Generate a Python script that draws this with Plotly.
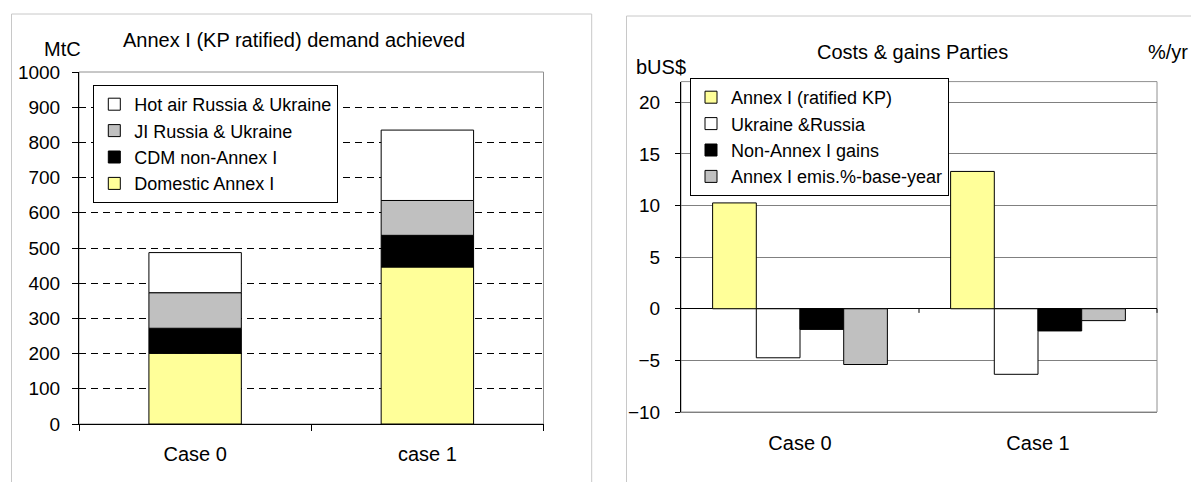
import plotly.graph_objects as go

# ---- data ----
cases_left = ["Case 0", "case 1"]
domestic_annex1 = [201, 446]
cdm_non_annex1 = [71, 90]
ji_russia_ukraine = [101, 99]
hot_air_russia_ukraine = [114, 200]

cases_right = ["Case 0", "Case 1"]
annex1_ratified = [10.25, 13.3]
ukraine_russia = [-4.75, -6.35]
non_annex1_gains = [-2.0, -2.15]
annex1_emis_pct = [-5.4, -1.15]

W, H = 1199, 482
OFF = 8  # page body margin
FONT = "Liberation Sans, Arial, sans-serif"
YELLOW = "#FFFF99"
GREY = "#C0C0C0"


def px_x(p):
    return (p - OFF) / W


def px_y(p):
    return 1 - (p - OFF) / H


fig = go.Figure()

# ---- left chart: stacked via base ----
left_series = [
    ("Domestic Annex I", domestic_annex1, YELLOW),
    ("CDM non-Annex I", cdm_non_annex1, "black"),
    ("JI Russia & Ukraine", ji_russia_ukraine, GREY),
    ("Hot air Russia & Ukraine", hot_air_russia_ukraine, "white"),
]
base = [0] * len(cases_left)
for name, vals, col in left_series:
    fig.add_trace(go.Bar(
        x=cases_left, y=vals, base=list(base), name=name,
        marker=dict(color=col, line=dict(color="black", width=1)),
        width=0.398, offset=-0.199,
        xaxis="x", yaxis="y", legend="legend",
    ))
    base = [b + v for b, v in zip(base, vals)]

# ---- right chart: grouped ----
right_series = [
    ("Annex I (ratified KP)", annex1_ratified, YELLOW),
    ("Ukraine &Russia", ukraine_russia, "white"),
    ("Non-Annex I gains", non_annex1_gains, "black"),
    ("Annex I emis.%-base-year", annex1_emis_pct, GREY),
]
bw = 0.1836
for i, (name, vals, col) in enumerate(right_series):
    fig.add_trace(go.Bar(
        x=cases_right, y=vals, name=name,
        marker=dict(color=col, line=dict(color="black", width=1)),
        width=bw, offset=-2 * bw + i * bw,
        xaxis="x2", yaxis="y2", legend="legend2",
    ))

fig.update_layout(
    width=W, height=H,
    margin=dict(l=0, r=0, t=0, b=0, autoexpand=False),
    paper_bgcolor="white", plot_bgcolor="white",
    font=dict(family=FONT, size=20, color="black"),
    barmode="overlay",
    showlegend=True,
    xaxis=dict(
        domain=[px_x(79), px_x(543.5)], anchor="y", type="category",
        range=[-0.5, 1.5], showline=True, linecolor="black", linewidth=1,
        ticks="outside", tickson="boundaries", ticklen=6, tickcolor="black",
        showgrid=False, ticklabelstandoff=12,
        tickfont=dict(size=20),
    ),
    yaxis=dict(
        domain=[px_y(424), px_y(72)], anchor="x",
        range=[0, 1000], dtick=100, tick0=0,
        showline=True, linecolor="black", linewidth=1,
        ticks="outside", ticklen=6, tickcolor="black",
        showgrid=True, gridcolor="black", gridwidth=1, griddash="7px,5px",
        zeroline=False, ticklabelstandoff=8, tickfont=dict(size=19),
    ),
    xaxis2=dict(
        domain=[px_x(681), px_x(1157)], anchor="y2", type="category",
        range=[-0.5, 1.5], showline=True, linecolor="#808080", linewidth=1,
        ticks="", showgrid=False, ticklabelstandoff=13,
        tickfont=dict(size=20),
    ),
    yaxis2=dict(
        domain=[px_y(412), px_y(81.6)], anchor="x2",
        range=[-10, 22], dtick=5, tick0=0,
        showline=True, linecolor="black", linewidth=1,
        ticks="outside", ticklen=5, tickcolor="black",
        showgrid=True, gridcolor="#808080", gridwidth=1,
        zeroline=True, zerolinecolor="black", zerolinewidth=1,
        ticklabelstandoff=11, tickfont=dict(size=19),
    ),
    legend=dict(
        x=px_x(93.3), y=px_y(85), xanchor="left", yanchor="top",
        bgcolor="white", bordercolor="black", borderwidth=1,
        traceorder="reversed", font=dict(size=18), itemwidth=30,
        itemclick=False,
    ),
    legend2=dict(
        x=px_x(690), y=px_y(78), xanchor="left", yanchor="top",
        bgcolor="white", bordercolor="black", borderwidth=1,
        traceorder="normal", font=dict(size=18), itemwidth=30,
        itemclick=False,
    ),
    shapes=[
        # panel frames (left, top, right edges)
        dict(type="path", xref="paper", yref="paper",
             path=f"M {px_x(11.5)},0 L {px_x(11.5)},{px_y(14)} L {px_x(591.7)},{px_y(14)} L {px_x(591.7)},0",
             line=dict(color="#C8C8C8", width=1), layer="below"),
        dict(type="path", xref="paper", yref="paper",
             path=f"M {px_x(626.5)},0 L {px_x(626.5)},{px_y(16)} L 1,{px_y(16)}",
             line=dict(color="#C8C8C8", width=1), layer="below"),
        # plot-area borders
        dict(type="rect", xref="x domain", yref="y domain",
             x0=0, x1=1, y0=0, y1=1,
             line=dict(color="#909090", width=1), layer="below"),
        dict(type="rect", xref="x2 domain", yref="y2 domain",
             x0=0, x1=1, y0=0, y1=1,
             line=dict(color="#909090", width=1), layer="below"),
        # category-boundary ticks on the zero line of the right chart
        dict(type="line", xref="x2 domain", yref="y2",
             x0=0.5, x1=0.5, y0=0, y1=-0.4,
             line=dict(color="black", width=1)),
        dict(type="line", xref="x2 domain", yref="y2",
             x0=1, x1=1, y0=0, y1=-0.4,
             line=dict(color="black", width=1)),
    ],
    annotations=[
        dict(text="Annex I (KP ratified) demand achieved", xref="paper", yref="paper",
             x=px_x(294), y=px_y(40), xanchor="center", yanchor="middle",
             showarrow=False, font=dict(size=20)),
        dict(text="MtC", xref="paper", yref="paper",
             x=px_x(62.4), y=px_y(49), xanchor="center", yanchor="middle",
             showarrow=False, font=dict(size=20)),
        dict(text="Costs & gains Parties", xref="paper", yref="paper",
             x=px_x(912.7), y=px_y(52), xanchor="center", yanchor="middle",
             showarrow=False, font=dict(size=20)),
        dict(text="bUS$", xref="paper", yref="paper",
             x=px_x(661), y=px_y(67), xanchor="center", yanchor="middle",
             showarrow=False, font=dict(size=20)),
        dict(text="%/yr", xref="paper", yref="paper",
             x=px_x(1168), y=px_y(52), xanchor="center", yanchor="middle",
             showarrow=False, font=dict(size=20)),
    ],
)

fig.write_html("out.html")
